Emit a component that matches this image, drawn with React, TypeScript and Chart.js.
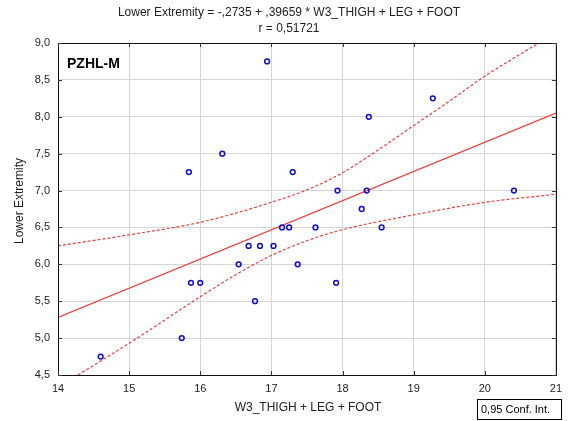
import React, { useEffect, useRef } from "react";
import { Chart, registerables } from "chart.js";

Chart.register(...registerables);

const titleLines = ["Lower Extremity = -,2735 + ,39659 * W3_THIGH + LEG + FOOT", "r = 0,51721"];
const xAxisTitle = "W3_THIGH + LEG + FOOT";
const yAxisTitle = "Lower Extremity";
const groupLabel = "PZHL-M";
const legendLabel = "0,95 Conf. Int.";

const pointX = [16.94, 19.27, 18.37, 16.31, 15.84, 17.3, 17.93, 18.34, 20.41, 18.27, 17.15, 17.25, 17.62, 18.55, 16.68, 16.84, 17.03, 16.54, 17.37, 15.87, 16.0, 17.91, 16.77, 15.74, 14.6];
const pointY = [8.75, 8.25, 8.0, 7.5, 7.25, 7.25, 7.0, 7.0, 7.0, 6.75, 6.5, 6.5, 6.5, 6.5, 6.25, 6.25, 6.25, 6.0, 6.0, 5.75, 5.75, 5.75, 5.5, 5.0, 4.75];

const fitX = [14, 21];
const fitY = [5.28, 8.05];

const upperX = [14, 15, 16, 17, 17.5, 18, 18.5, 19, 19.5, 20, 20.76];
const upperY = [6.25, 6.4, 6.57, 6.84, 7.01, 7.24, 7.55, 7.88, 8.21, 8.55, 9.0];

const lowerX = [14.28, 15, 16, 16.5, 17, 17.5, 18, 19, 20, 21];
const lowerY = [4.5, 4.93, 5.56, 5.86, 6.12, 6.32, 6.47, 6.67, 6.84, 6.95];

const xMin = 14, xMax = 21, xStep = 1;
const yMin = 4.5, yMax = 9.0, yStep = 0.5;

const toXY = (xs: number[], ys: number[]) => xs.map((x, i) => ({ x, y: ys[i] }));

const FONT = "'Liberation Sans', Arial, sans-serif";
const RED = "#e8413f";
const BLUE = "#1010c8";

export default function App() {
  const ref = useRef<HTMLCanvasElement | null>(null);

  useEffect(() => {
    document.body.style.margin = "0";
    const canvas = ref.current!;
    const decor = {
      id: "decor",
      afterDraw(chart: any) {
        const { ctx, chartArea: a, scales } = chart;
        ctx.save();
        // frame
        ctx.strokeStyle = "#111";
        ctx.lineWidth = 1;
        ctx.strokeRect(Math.round(a.left) + 0.5, Math.round(a.top) + 0.5, Math.round(a.right - a.left), Math.round(a.bottom - a.top));
        // inner ticks
        ctx.strokeStyle = "#333";
        ctx.beginPath();
        for (let v = xMin; v <= xMax + 1e-9; v += xStep) {
          const px = Math.round(scales.x.getPixelForValue(v)) + 0.5;
          ctx.moveTo(px, a.bottom); ctx.lineTo(px, a.bottom - 4);
          ctx.moveTo(px, a.top); ctx.lineTo(px, a.top + 4);
        }
        for (let v = yMin; v <= yMax + 1e-9; v += yStep) {
          const py = Math.round(scales.y.getPixelForValue(v)) + 0.5;
          ctx.moveTo(a.left, py); ctx.lineTo(a.left + 4, py);
          ctx.moveTo(a.right, py); ctx.lineTo(a.right - 4, py);
        }
        ctx.stroke();
        // titles
        ctx.fillStyle = "#222";
        ctx.font = `12px ${FONT}`;
        ctx.textAlign = "center";
        ctx.textBaseline = "middle";
        ctx.fillText(titleLines[0], 289, 13);
        ctx.fillText(titleLines[1], 289, 29);
        ctx.fillText(xAxisTitle, 308, 408);
        ctx.save();
        ctx.translate(20, 201);
        ctx.rotate(-Math.PI / 2);
        ctx.fillText(yAxisTitle, 0, 0);
        ctx.restore();
        // group label
        ctx.font = `bold 14px ${FONT}`;
        ctx.textAlign = "left";
        ctx.fillStyle = "#000";
        ctx.fillText(groupLabel, 67, 64);
        // legend box
        ctx.font = `11px ${FONT}`;
        ctx.strokeStyle = "#000";
        ctx.strokeRect(477.5, 399.5, 84, 20);
        ctx.fillText(legendLabel, 481, 410);
        ctx.restore();
      },
    };

    const chart = new Chart(canvas, {
      type: "scatter",
      data: {
        datasets: [
          {
            data: toXY(pointX, pointY),
            pointStyle: "circle",
            pointRadius: 2.4,
            pointBorderWidth: 1.5,
            borderColor: BLUE,
            backgroundColor: "rgba(255,255,255,0)",
            order: 0,
          },
          {
            data: toXY(fitX, fitY),
            showLine: true,
            pointRadius: 0,
            borderColor: RED,
            borderWidth: 1.2,
            order: 1,
          },
          {
            data: toXY(upperX, upperY),
            showLine: true,
            pointRadius: 0,
            borderColor: RED,
            borderWidth: 1.2,
            borderDash: [3, 2],
            cubicInterpolationMode: "monotone",
            order: 1,
          },
          {
            data: toXY(lowerX, lowerY),
            showLine: true,
            pointRadius: 0,
            borderColor: RED,
            borderWidth: 1.2,
            borderDash: [3, 2],
            cubicInterpolationMode: "monotone",
            order: 1,
          },
        ],
      },
      options: {
        responsive: false,
        animation: false,
        layout: { padding: { top: 43, right: 10, bottom: 0, left: 0 } },
        plugins: { legend: { display: false }, title: { display: false }, tooltip: { enabled: false } },
        scales: {
          x: {
            type: "linear",
            min: xMin,
            max: xMax,
            afterFit: (s: any) => { s.height = 46; },
            grid: { color: "#d6d6d6", drawTicks: false },
            border: { display: false },
            ticks: {
              stepSize: xStep,
              padding: 7,
              color: "#222",
              font: { family: FONT, size: 11 },
              callback: (v: any) => String(v),
            },
          },
          y: {
            type: "linear",
            min: yMin,
            max: yMax,
            afterFit: (s: any) => { s.width = 58; },
            grid: { color: "#d6d6d6", drawTicks: false },
            border: { display: false },
            ticks: {
              stepSize: yStep,
              padding: 8,
              color: "#222",
              font: { family: FONT, size: 11 },
              callback: (v: any) => Number(v).toFixed(1).replace(".", ","),
            },
          },
        },
      },
      plugins: [decor],
    } as any);
    return () => chart.destroy();
  }, []);

  return (
    <div style={{ position: "fixed", left: 0, top: 0, width: 569, height: 421, background: "#fff" }}>
      <canvas ref={ref} width={569} height={421} style={{ display: "block" }} />
    </div>
  );
}
